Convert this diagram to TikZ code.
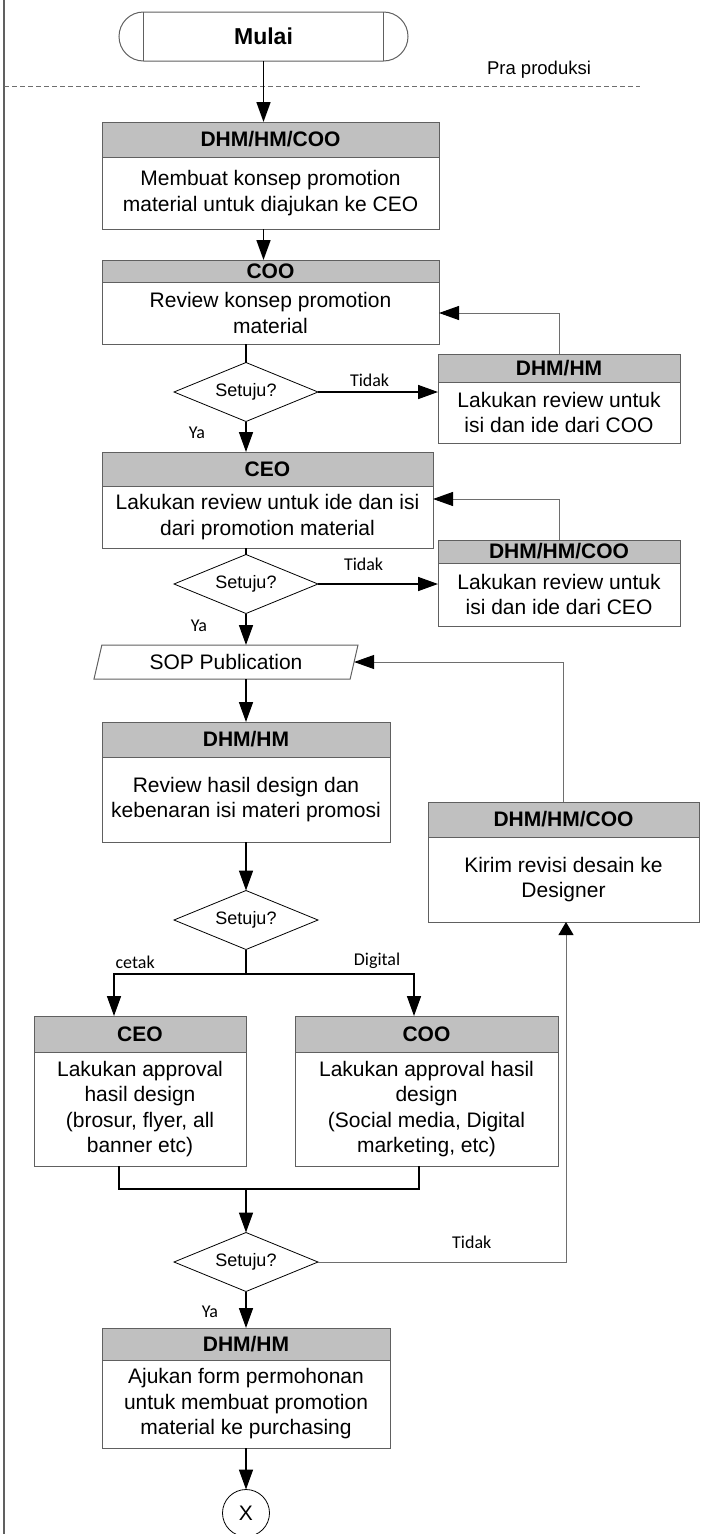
\documentclass[tikz,border=0pt]{standalone}
\usepackage{fontspec}
\setmainfont{Liberation Sans}
\newfontfamily\lblfont{Carlito}
\usepackage{tikz}
\usetikzlibrary{arrows.meta}
\usetikzlibrary{positioning}
\usetikzlibrary{shapes.geometric}
\usetikzlibrary{shapes.misc}
\definecolor{headgray}{RGB}{192,192,192}
\definecolor{linegray}{RGB}{96,96,96}
\definecolor{backgray}{RGB}{110,110,110}
\tikzset{>={Triangle[length=20pt,width=14pt]}}

\begin{document}
\begin{tikzpicture}[
        x=1pt, y=-1pt,
        every node/.style={inner sep=0pt,outer sep=0pt,align=center,font=\fontsize{21}{25.5}\selectfont},
        head/.style={draw=linegray,line width=1pt,fill=headgray,anchor=north,font=\fontsize{21}{25.5}\selectfont\bfseries},
        body/.style={draw=linegray,line width=1pt,fill=white,below=0pt of #1},
        dec/.style={diamond,draw=black,line width=0.8pt,aspect=2.44,minimum width=144pt,minimum height=59pt,font=\fontsize{18}{21}\selectfont},
        lbl/.style={font=\lblfont\fontsize{18}{21}\selectfont},
        flow/.style={->,line width=1.6pt},
        joint/.style={line width=1.6pt},
        back/.style={-{Triangle[length=20pt,width=14pt,color=black]},draw=backgray,line width=1pt},
        backsmall/.style={-{Triangle[length=13pt,width=15pt,color=black]},draw=backgray,line width=1pt}
    ]
    \useasboundingbox (0,0) rectangle (702,1534);

    \draw[linegray,line width=1.2pt] (4,0) -- (4,1534);
    \draw[backgray,line width=1pt,dash pattern=on 5pt off 3pt] (4,86) -- (640,86);
    \node[font=\fontsize{18.5}{22}\selectfont] (pra) at (539,70) {Pra produksi};

    \node[draw=linegray,line width=1pt,rounded rectangle,minimum width=289pt,minimum height=49pt,font=\fontsize{23}{27}\selectfont\bfseries] (mulai) at (263.5,36.5) {Mulai};
    \draw[linegray,line width=1pt] ([xshift=-120pt]mulai.north) -- ([xshift=-120pt]mulai.south);
    \draw[linegray,line width=1pt] ([xshift=120pt]mulai.north) -- ([xshift=120pt]mulai.south);

    \node[head,minimum width=337pt,minimum height=35pt] (konseph) at (270.5,122) {DHM/HM/COO};
    \node[body=konseph,minimum width=337pt,minimum height=72pt] (konsep) {Membuat konsep promotion\\material untuk diajukan ke CEO};

    \node[head,minimum width=337pt,minimum height=22pt] (reviewh) at (270.5,260) {COO};
    \node[body=reviewh,minimum width=337pt,minimum height=62pt] (review) {Review konsep promotion\\material};

    \node[dec] (cek1) at (246,392) {Setuju?};

    \node[head,minimum width=242pt,minimum height=28pt] (revcooh) at (559,354) {DHM/HM};
    \node[body=revcooh,minimum width=242pt,minimum height=61pt] (revcoo) {Lakukan review untuk\\isi dan ide dari COO};

    \node[head,minimum width=331pt,minimum height=34pt] (ceoh) at (267.5,452) {CEO};
    \node[body=ceoh,minimum width=331pt,minimum height=62pt] (ceo) {Lakukan review untuk ide dan isi\\dari promotion material};

    \node[dec] (cek2) at (246,584) {Setuju?};

    \node[head,minimum width=242pt,minimum height=23pt] (revceoh) at (559,540) {DHM/HM/COO};
    \node[body=revceoh,minimum width=242pt,minimum height=63pt] (revceo) {Lakukan review untuk\\isi dan ide dari CEO};

    \node[trapezium,trapezium left angle=63,trapezium right angle=117,trapezium stretches body,draw=linegray,line width=1pt,minimum width=264pt,minimum height=34pt] (sop) at (226,662) {SOP Publication};

    \node[head,minimum width=288pt,minimum height=35pt] (hasilh) at (246,722) {DHM/HM};
    \node[body=hasilh,minimum width=288pt,minimum height=85pt] (hasil) {Review hasil design dan\\kebenaran isi materi promosi};

    \node[head,minimum width=271pt,minimum height=35pt] (kirimh) at (563.5,802) {DHM/HM/COO};
    \node[body=kirimh,minimum width=271pt,minimum height=85pt] (kirim) {Kirim revisi desain ke\\Designer};

    \node[dec] (cek3) at (246,920) {Setuju?};
    \coordinate (split) at (246,974);

    \node[head,minimum width=212pt,minimum height=36pt] (cetakh) at (140,1016) {CEO};
    \node[body=cetakh,minimum width=212pt,minimum height=114pt] (cetak) {Lakukan approval\\hasil design\\(brosur, flyer, all\\banner etc)};

    \node[head,minimum width=263pt,minimum height=36pt] (digitalh) at (426.5,1016) {COO};
    \node[body=digitalh,minimum width=263pt,minimum height=114pt] (digital) {Lakukan approval hasil\\design\\(Social media, Digital\\marketing, etc)};

    \coordinate (join) at (246,1189);
    \node[dec] (cek4) at (246,1262) {Setuju?};

    \node[head,minimum width=288pt,minimum height=32pt] (ajukanh) at (246,1328) {DHM/HM};
    \node[body=ajukanh,minimum width=288pt,minimum height=88pt] (ajukan) {Ajukan form permohonan\\untuk membuat promotion\\material ke purchasing};

    \node[circle,draw=black,line width=0.8pt,minimum size=47pt] (x) at (246,1513) {X};

    \draw[flow] (mulai.south) -- (mulai |- konseph.north);
    \draw[flow] (konsep.south -| mulai) -- (reviewh.north -| mulai);
    \draw[joint] (review.south -| cek1) -- (cek1.north);
    \draw[flow] (cek1.east) -- (cek1.east -| revcoo.west) node[lbl,above=5pt,pos=0.43] {Tidak};
    \draw[back] (revcooh.north) |- (review.east);
    \draw[flow] (cek1.south) -- (cek1 |- ceoh.north) node[lbl,left=41pt,pos=0.37] {Ya};

    \draw[joint] (ceo.south -| cek2) -- (cek2.north);
    \draw[flow] (cek2.east) -- (cek2.east -| revceo.west) node[lbl,above=13pt,pos=0.38] {Tidak};
    \draw[back] (revceoh.north) |- ([yshift=18pt]ceo.east);
    \draw[flow] (cek2.south) -- (cek2 |- sop.north) node[lbl,left=39pt,pos=0.4] {Ya};

    \draw[flow] (sop.south -| hasilh) -- (hasilh.north);
    \draw[back] (kirimh.north) |- (sop.east);
    \draw[flow] (hasil.south) -- (cek3.north);

    \draw[joint] (cek3.south) -- (split);
    \draw[flow] (split) -| ([xshift=-26pt]cetakh.north) node[lbl,above=5pt,pos=0.42] {cetak};
    \draw[flow] (split) -| ([xshift=-12.5pt]digitalh.north) node[lbl,above=5pt,pos=0.39] {Digital};
    \draw[joint] ([xshift=-21pt]cetak.south) |- (join) -| ([xshift=-7.5pt]digital.south);
    \draw[flow] (join) -- (cek4.north);

    \draw[backsmall] (cek4.east) -| ([xshift=2.5pt]kirim.south) node[lbl,above=13pt,pos=0.31] {Tidak};
    \draw[flow] (cek4.south) -- (ajukanh.north) node[lbl,left=28pt,pos=0.56] {Ya};
    \draw[flow] (ajukan.south) -- (x.north);
\end{tikzpicture}
\end{document}
